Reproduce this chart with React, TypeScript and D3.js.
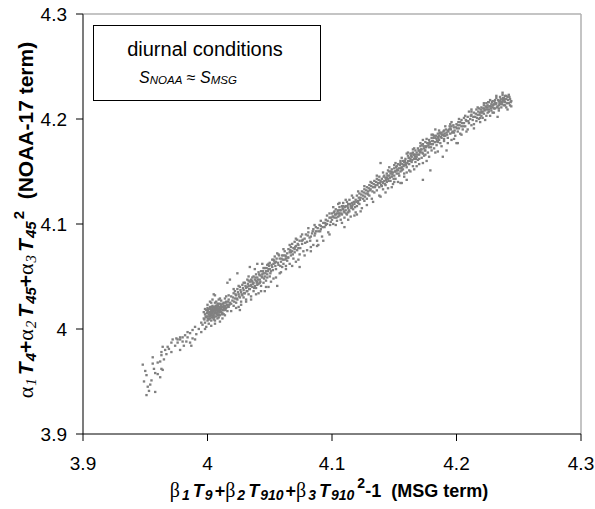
import React from "react";
import * as d3 from "d3";

const xTicks = [3.9, 4.0, 4.1, 4.2, 4.3];
const yTicks = [3.9, 4.0, 4.1, 4.2, 4.3];
const tickLabels = ["3.9", "4", "4.1", "4.2", "4.3"];

// tail (x 3.948 - 3.995)
const tailPoints: [number, number][] = [
  [3.948,3.966],[3.951,3.956],[3.949,3.950],[3.951,3.937],[3.952,3.945],[3.953,3.941],[3.955,3.951],[3.958,3.958],
  [3.958,3.940],[3.956,3.967],[3.960,3.968],[3.962,3.969],[3.963,3.962],[3.962,3.954],[3.964,3.961],[3.956,3.973],
  [3.963,3.975],[3.966,3.980],[3.968,3.983],[3.971,3.987],[3.971,3.978],[3.972,3.990],[3.976,3.987],[3.978,3.990],
  [3.978,3.980],[3.980,3.988],[3.983,3.988],[3.986,3.987],[3.988,3.991],[3.990,3.990],[3.978,3.992],[3.982,3.994],
  [3.986,3.996],[3.988,3.999],[3.950,3.960],[3.954,3.947],[3.957,3.962],[3.960,3.957],[3.965,3.971],[3.967,3.976],
  [3.969,3.981],[3.974,3.984],[3.975,3.991],[3.981,3.984],[3.984,3.992],[3.987,3.984],[3.991,3.995],[3.993,4.000],
  [3.995,3.997],[3.964,3.983],[3.963,3.978],[3.976,3.990],[3.980,3.992],[3.984,3.997],[3.990,4.002]
];

// dense blob near (4.005, 4.015)
const blobPoints: [number, number][] = [
  [3.996,4.004],[3.997,4.010],[3.998,4.006],[3.998,4.014],[3.999,4.002],[3.999,4.011],[4.000,4.008],[4.000,4.016],
  [4.000,4.012],[4.001,4.005],[4.001,4.019],[4.001,4.014],[4.002,4.010],[4.002,4.016],[4.002,4.021],[4.003,4.013],
  [4.003,4.008],[4.003,4.018],[4.004,4.015],[4.004,4.011],[4.004,4.022],[4.005,4.017],[4.005,4.013],[4.005,4.009],
  [4.006,4.020],[4.006,4.015],[4.006,4.025],[4.007,4.012],[4.007,4.018],[4.007,4.022],[4.008,4.016],[4.008,4.020],
  [4.008,4.010],[4.009,4.019],[4.009,4.024],[4.009,4.014],[4.010,4.021],[4.010,4.017],[4.010,4.007],[4.011,4.023],
  [4.011,4.019],[4.011,4.027],[4.012,4.015],[4.012,4.021],[4.013,4.025],[4.013,4.018],[4.014,4.022],[4.014,4.029],
  [4.015,4.020],[4.015,4.026],[4.016,4.023],[4.016,4.017],[4.017,4.028],[4.017,4.021],[4.018,4.025],[3.997,4.016],
  [3.999,4.018],[4.002,4.026],[4.004,4.028],[4.006,4.032],[4.003,4.003],[4.006,4.005],[4.009,4.011],[4.012,4.010],
  [4.014,4.013],[4.016,4.021],[4.001,4.009],[4.004,4.019],[4.007,4.015],[4.008,4.024],[4.010,4.013],[4.013,4.022],
  [4.000,4.020],[3.998,4.019],[4.005,4.021],[4.007,4.026],[4.011,4.016],[4.009,4.028],[4.015,4.031],[4.019,4.017],
  [4.005,4.033],[4.016,4.044],[4.018,4.047],[4.024,4.053],
  [3.9975,4.009],[3.9985,4.012],[3.9995,4.015],[4.0005,4.010],[4.0005,4.018],[4.0015,4.012],[4.0015,4.016],[4.0025,4.014],
  [4.0025,4.019],[4.0035,4.011],[4.0035,4.016],[4.0035,4.021],[4.0045,4.013],[4.0045,4.018],[4.0055,4.015],[4.0055,4.020],
  [4.0055,4.011],[4.0065,4.017],[4.0065,4.022],[4.0075,4.014],[4.0075,4.020],[4.0085,4.018],[4.0085,4.013],[4.0085,4.022],
  [4.0095,4.016],[4.0095,4.021],[4.0105,4.019],[4.0105,4.024],[4.0115,4.021],[4.0115,4.014],[4.0125,4.018],[4.0125,4.024],
  [4.0135,4.020],[4.0145,4.025],[4.0145,4.018],[4.0155,4.023],[4.0165,4.026],[4.0175,4.023],[4.002,4.012],[4.004,4.017],
  [4.006,4.018],[4.008,4.022],[4.010,4.019],[4.012,4.018],[4.003,4.015],[4.005,4.011],[4.007,4.020],[4.009,4.017],
  [4.011,4.021],[4.013,4.020],
  [3.998,4.000],[4.000,4.023],[4.003,4.025],[4.006,4.008],[4.010,4.029],[4.013,4.014],[4.017,4.032],[3.995,4.006]
];

// x 4.02 - 4.06
const risePoints: [number, number][] = [
  [4.019,4.024],[4.019,4.031],[4.020,4.027],[4.021,4.034],[4.021,4.022],[4.022,4.029],[4.022,4.036],[4.023,4.025],
  [4.023,4.032],[4.024,4.038],[4.024,4.028],[4.025,4.033],[4.025,4.021],[4.026,4.030],[4.026,4.040],[4.027,4.035],
  [4.027,4.026],[4.028,4.032],[4.028,4.042],[4.029,4.037],[4.029,4.030],[4.030,4.034],[4.030,4.044],[4.031,4.039],
  [4.031,4.028],[4.032,4.036],[4.032,4.047],[4.033,4.041],[4.033,4.033],[4.034,4.038],[4.034,4.045],[4.035,4.042],
  [4.035,4.031],[4.036,4.049],[4.036,4.040],[4.037,4.044],[4.037,4.036],[4.038,4.047],[4.038,4.041],[4.039,4.052],
  [4.039,4.039],[4.040,4.045],[4.040,4.049],[4.041,4.043],[4.041,4.034],[4.042,4.051],[4.042,4.047],[4.043,4.055],
  [4.043,4.041],[4.044,4.049],[4.045,4.053],[4.045,4.044],[4.046,4.058],[4.046,4.050],[4.047,4.046],[4.047,4.055],
  [4.048,4.061],[4.048,4.052],[4.049,4.040],[4.049,4.057],[4.050,4.063],[4.050,4.050],[4.051,4.055],[4.052,4.066],
  [4.052,4.059],[4.053,4.048],[4.053,4.062],[4.054,4.069],[4.055,4.057],[4.055,4.064],[4.056,4.072],[4.056,4.041],
  [4.057,4.061],[4.058,4.067],[4.058,4.053],[4.059,4.064],[4.060,4.070],[4.060,4.059],[4.038,4.057],[4.044,4.062],
  [4.033,4.050],[4.026,4.018],[4.046,4.036],[4.034,4.059],[4.040,4.062],
  [4.0205,4.030],[4.0215,4.026],[4.0225,4.033],[4.0235,4.029],[4.0245,4.035],[4.0255,4.031],[4.0265,4.037],[4.0275,4.033],
  [4.0285,4.039],[4.0295,4.034],[4.0305,4.041],[4.0315,4.036],[4.0325,4.043],[4.0335,4.038],[4.0345,4.041],[4.0355,4.046],
  [4.0365,4.043],[4.0375,4.039],[4.0385,4.049],[4.0395,4.044],[4.0405,4.047],[4.0415,4.052],[4.0425,4.045],[4.0435,4.050],
  [4.0445,4.055],[4.0455,4.048],[4.0465,4.053],[4.0475,4.058],[4.0485,4.055],[4.0495,4.060],[4.0505,4.053],[4.0515,4.061],
  [4.0525,4.056],[4.0535,4.065],[4.0545,4.060],[4.0555,4.067],[4.0565,4.063],[4.0575,4.070],[4.0585,4.060],[4.0595,4.067],
  [4.032,4.040],[4.036,4.045],[4.040,4.042],[4.044,4.052],[4.048,4.049],[4.035,4.047],[4.039,4.046],[4.042,4.044],
  [4.050,4.057],[4.054,4.063],
  [4.021,4.038],[4.023,4.020],[4.025,4.041],[4.027,4.023],[4.029,4.044],[4.031,4.026],[4.033,4.046],[4.035,4.028],
  [4.037,4.050],[4.039,4.033],[4.041,4.054],[4.043,4.036],[4.045,4.058],[4.047,4.040],[4.049,4.062],[4.051,4.045],
  [4.053,4.066],[4.055,4.049],[4.057,4.071],[4.059,4.054]
];

// x 4.06 - 4.10
const midPoints: [number, number][] = [
  [4.061,4.062],[4.061,4.070],[4.062,4.066],[4.062,4.074],[4.063,4.060],[4.063,4.069],[4.064,4.072],[4.064,4.065],
  [4.065,4.076],[4.065,4.068],[4.066,4.073],[4.066,4.062],[4.067,4.078],[4.067,4.070],[4.068,4.074],[4.068,4.081],
  [4.069,4.067],[4.069,4.077],[4.070,4.083],[4.070,4.073],[4.071,4.079],[4.072,4.075],[4.072,4.085],[4.073,4.080],
  [4.074,4.071],[4.074,4.084],[4.075,4.088],[4.076,4.081],[4.077,4.074],[4.078,4.086],[4.079,4.090],[4.080,4.083],
  [4.081,4.092],[4.082,4.087],[4.083,4.078],[4.084,4.091],[4.085,4.095],[4.086,4.089],[4.087,4.097],[4.088,4.084],
  [4.089,4.093],[4.090,4.099],[4.091,4.095],[4.092,4.088],[4.093,4.101],[4.094,4.097],[4.095,4.104],[4.096,4.100],
  [4.097,4.092],[4.098,4.106],[4.099,4.102],[4.071,4.064],[4.080,4.075],[4.089,4.080],[4.074,4.059],[4.085,4.080],
  [4.0605,4.066],[4.0625,4.070],[4.0645,4.068],[4.0665,4.075],[4.0685,4.071],[4.0705,4.078],[4.0725,4.081],[4.0745,4.077],
  [4.0765,4.085],[4.0785,4.082],[4.0805,4.089],[4.0825,4.084],[4.0845,4.093],[4.0865,4.091],[4.0885,4.096],[4.0905,4.093],
  [4.0925,4.097],[4.0945,4.101],[4.0965,4.103],[4.0985,4.099],[4.063,4.067],[4.067,4.073],[4.070,4.076],[4.073,4.077],
  [4.076,4.084],[4.083,4.088],[4.087,4.093],[4.091,4.098],[4.095,4.099],[4.099,4.106],
  [4.061,4.076],[4.063,4.057],[4.066,4.080],[4.068,4.060],[4.071,4.086],[4.073,4.066],[4.076,4.090],[4.078,4.070],
  [4.081,4.096],[4.083,4.074],[4.086,4.099],[4.088,4.079],[4.091,4.103],[4.093,4.084],[4.096,4.108],[4.098,4.090]
];

// x 4.10 - 4.14
const upperMidPoints: [number, number][] = [
  [4.100,4.104],[4.100,4.110],[4.101,4.107],[4.101,4.100],[4.102,4.112],[4.102,4.106],[4.103,4.109],[4.103,4.114],
  [4.104,4.103],[4.104,4.110],[4.105,4.113],[4.105,4.107],[4.106,4.116],[4.106,4.110],[4.107,4.104],[4.107,4.113],
  [4.108,4.117],[4.108,4.109],[4.109,4.114],[4.109,4.120],[4.110,4.111],[4.110,4.106],[4.111,4.117],[4.111,4.113],
  [4.112,4.121],[4.112,4.109],[4.113,4.115],[4.113,4.119],[4.114,4.112],[4.114,4.123],[4.115,4.117],[4.115,4.107],
  [4.116,4.120],[4.117,4.114],[4.117,4.125],[4.118,4.119],[4.119,4.123],[4.119,4.111],[4.120,4.127],[4.120,4.117],
  [4.121,4.122],[4.122,4.129],[4.122,4.119],[4.123,4.125],[4.124,4.131],[4.124,4.115],[4.125,4.127],[4.126,4.122],
  [4.126,4.133],[4.127,4.129],[4.128,4.135],[4.128,4.124],[4.129,4.131],[4.130,4.137],[4.130,4.127],[4.131,4.133],
  [4.132,4.139],[4.132,4.124],[4.133,4.135],[4.134,4.130],[4.134,4.141],[4.135,4.137],[4.136,4.143],[4.136,4.132],
  [4.137,4.139],[4.138,4.135],[4.138,4.145],[4.139,4.126],[4.139,4.141],[4.110,4.097],[4.120,4.109],[4.098,4.110],
  [4.105,4.119],
  [4.1005,4.107],[4.1015,4.111],[4.1025,4.109],[4.1035,4.106],[4.1045,4.112],[4.1055,4.110],[4.1065,4.113],[4.1075,4.110],
  [4.1085,4.115],[4.1095,4.112],[4.1105,4.116],[4.1115,4.110],[4.1125,4.117],[4.1135,4.113],[4.1145,4.119],[4.1155,4.115],
  [4.1165,4.118],[4.1175,4.121],[4.1185,4.116],[4.1195,4.121],[4.1215,4.125],[4.1225,4.123],[4.1235,4.128],[4.1255,4.130],
  [4.1265,4.126],[4.1275,4.132],[4.1285,4.129],[4.1295,4.134],[4.1305,4.132],[4.1315,4.136],[4.1325,4.131],[4.1335,4.138],
  [4.1345,4.135],[4.1355,4.140],[4.1365,4.137],[4.1375,4.142],[4.1385,4.139],[4.1395,4.137],[4.106,4.108],[4.109,4.117],
  [4.113,4.111],[4.116,4.116],[4.121,4.120],[4.125,4.124],[4.129,4.128],
  [4.101,4.116],[4.103,4.099],[4.106,4.120],[4.108,4.101],[4.111,4.123],[4.113,4.104],[4.116,4.127],[4.118,4.108],
  [4.121,4.131],[4.123,4.112],[4.126,4.136],[4.128,4.118],[4.131,4.140],[4.133,4.121],[4.136,4.146],[4.138,4.127]
];

// x 4.14 - 4.20
const densePoints: [number, number][] = [
  [4.140,4.136],[4.140,4.143],[4.141,4.139],[4.141,4.133],[4.142,4.141],[4.142,4.146],[4.143,4.137],[4.143,4.144],
  [4.144,4.140],[4.144,4.148],[4.145,4.143],[4.145,4.134],[4.146,4.146],[4.146,4.150],[4.147,4.141],[4.147,4.148],
  [4.148,4.145],[4.148,4.152],[4.149,4.138],[4.149,4.149],[4.150,4.146],[4.150,4.153],[4.151,4.150],[4.151,4.143],
  [4.152,4.155],[4.152,4.148],[4.153,4.151],[4.153,4.157],[4.154,4.146],[4.154,4.153],[4.155,4.150],[4.155,4.158],
  [4.156,4.154],[4.156,4.139],[4.157,4.160],[4.157,4.152],[4.158,4.156],[4.158,4.148],[4.159,4.162],[4.159,4.158],
  [4.160,4.154],[4.160,4.142],[4.161,4.160],[4.161,4.165],[4.162,4.157],[4.162,4.151],[4.163,4.162],[4.163,4.167],
  [4.164,4.159],[4.164,4.164],[4.165,4.155],[4.165,4.168],[4.166,4.162],[4.166,4.166],[4.167,4.159],[4.167,4.170],
  [4.168,4.164],[4.168,4.168],[4.169,4.161],[4.169,4.172],[4.170,4.166],[4.170,4.157],[4.171,4.169],[4.171,4.174],
  [4.172,4.163],[4.172,4.171],[4.173,4.167],[4.173,4.142],[4.173,4.176],[4.174,4.172],[4.174,4.165],[4.175,4.178],
  [4.175,4.170],[4.176,4.174],[4.176,4.160],[4.177,4.177],[4.177,4.168],[4.178,4.173],[4.178,4.180],[4.179,4.151],
  [4.179,4.176],[4.180,4.170],[4.180,4.182],[4.181,4.176],[4.181,4.179],[4.182,4.172],[4.182,4.184],[4.183,4.178],
  [4.184,4.181],[4.184,4.175],[4.185,4.186],[4.185,4.169],[4.186,4.180],[4.186,4.184],[4.187,4.177],[4.188,4.187],
  [4.188,4.182],[4.189,4.164],[4.189,4.185],[4.190,4.179],[4.190,4.189],[4.191,4.184],[4.192,4.170],[4.192,4.187],
  [4.193,4.182],[4.194,4.190],[4.195,4.186],[4.196,4.193],[4.196,4.180],[4.197,4.188],[4.198,4.192],[4.199,4.184],
  [4.200,4.195],[4.200,4.177],[4.139,4.158],[4.155,4.139],[4.160,4.167],[4.173,4.180],[4.166,4.152],[4.183,4.190],
  [4.150,4.140],[4.145,4.151],
  [4.1405,4.140],[4.1415,4.145],[4.1425,4.138],[4.1435,4.142],[4.1445,4.146],[4.1455,4.141],[4.1465,4.144],[4.1475,4.150],
  [4.1485,4.147],[4.1495,4.143],[4.1505,4.150],[4.1515,4.154],[4.1525,4.152],[4.1535,4.148],[4.1545,4.156],[4.1555,4.153],
  [4.1565,4.157],[4.1575,4.155],[4.1585,4.160],[4.1595,4.156],[4.1605,4.158],[4.1615,4.163],[4.1625,4.160],[4.1635,4.165],
  [4.1645,4.161],[4.1655,4.166],[4.1665,4.164],[4.1675,4.162],[4.1685,4.166],[4.1695,4.170],[4.1705,4.168],[4.1715,4.171],
  [4.1725,4.168],[4.1735,4.174],[4.1745,4.170],[4.1755,4.173],[4.1765,4.177],[4.1775,4.175],[4.1785,4.178],[4.1795,4.173],
  [4.1805,4.179],[4.1815,4.182],[4.1825,4.178],[4.1835,4.184],[4.1845,4.179],[4.1855,4.182],[4.1865,4.187],[4.1875,4.183],
  [4.1885,4.185],[4.1895,4.188],[4.1905,4.186],[4.1915,4.190],[4.1925,4.185],[4.1935,4.188],[4.1945,4.193],[4.1955,4.190],
  [4.1965,4.187],[4.1975,4.194],[4.1985,4.189],[4.1995,4.192],[4.144,4.144],[4.148,4.149],[4.152,4.151],[4.156,4.151],
  [4.158,4.159],[4.162,4.163],[4.164,4.167],[4.167,4.166],[4.170,4.170],[4.172,4.175],[4.175,4.174],[4.178,4.177],
  [4.180,4.176],[4.183,4.182],[4.185,4.183],[4.187,4.186],[4.190,4.184],[4.193,4.189],[4.195,4.191],[4.198,4.187],
  [4.141,4.149],[4.143,4.130],[4.146,4.154],[4.148,4.135],[4.151,4.158],[4.153,4.140],[4.156,4.163],[4.158,4.145],
  [4.161,4.168],[4.163,4.150],[4.166,4.172],[4.168,4.155],[4.171,4.177],[4.173,4.158],[4.176,4.181],[4.178,4.164],
  [4.181,4.185],[4.183,4.168],[4.186,4.189],[4.188,4.174],[4.191,4.193],[4.193,4.177],[4.196,4.197],[4.198,4.181],
  [4.150,4.156],[4.160,4.149],[4.170,4.162],[4.180,4.185],[4.190,4.181],[4.155,4.160],[4.165,4.171],[4.175,4.166],
  [4.185,4.178],[4.195,4.195]
];

// x 4.20 - 4.245
const topPoints: [number, number][] = [
  [4.201,4.188],[4.201,4.194],[4.202,4.191],[4.203,4.197],[4.203,4.186],[4.204,4.193],[4.204,4.199],[4.205,4.190],
  [4.206,4.196],[4.206,4.201],[4.207,4.193],[4.208,4.198],[4.208,4.188],[4.209,4.202],[4.210,4.196],[4.210,4.207],
  [4.211,4.200],[4.212,4.194],[4.212,4.204],[4.213,4.199],[4.214,4.206],[4.214,4.191],[4.215,4.202],[4.216,4.209],
  [4.216,4.198],[4.217,4.204],[4.218,4.200],[4.218,4.210],[4.219,4.206],[4.219,4.197],[4.220,4.203],[4.220,4.211],
  [4.221,4.207],[4.221,4.201],[4.222,4.213],[4.222,4.205],[4.223,4.209],[4.223,4.199],[4.224,4.211],[4.224,4.215],
  [4.225,4.206],[4.225,4.213],[4.226,4.209],[4.226,4.216],[4.227,4.203],[4.227,4.212],[4.228,4.214],[4.228,4.208],
  [4.229,4.217],[4.229,4.211],[4.230,4.206],[4.230,4.214],[4.231,4.218],[4.231,4.210],[4.232,4.215],[4.232,4.220],
  [4.233,4.202],[4.233,4.212],[4.234,4.217],[4.234,4.208],[4.235,4.214],[4.235,4.221],[4.236,4.216],[4.236,4.211],
  [4.237,4.223],[4.237,4.218],[4.238,4.213],[4.238,4.220],[4.239,4.216],[4.239,4.222],[4.240,4.211],[4.240,4.219],
  [4.241,4.209],[4.241,4.221],[4.242,4.215],[4.243,4.213],[4.243,4.219],[4.244,4.217],[4.201,4.177],[4.212,4.207],
  [4.2005,4.191],[4.2015,4.197],[4.2025,4.194],[4.2045,4.196],[4.2055,4.193],[4.2075,4.199],[4.2095,4.198],[4.2115,4.203],
  [4.2135,4.202],[4.2155,4.205],[4.2165,4.201],[4.2175,4.207],[4.2185,4.204],[4.2195,4.209],[4.2205,4.206],[4.2215,4.210],
  [4.2225,4.208],[4.2235,4.212],[4.2245,4.209],[4.2255,4.216],[4.2265,4.212],[4.2275,4.210],[4.2285,4.216],[4.2295,4.213],
  [4.2305,4.217],[4.2315,4.214],[4.2325,4.211],[4.2335,4.218],[4.2345,4.215],[4.2355,4.219],[4.2365,4.214],[4.2375,4.220],
  [4.2385,4.217],[4.2395,4.219],[4.2405,4.215],[4.2415,4.218],[4.2425,4.221],[4.2435,4.216],[4.222,4.210],[4.225,4.211],
  [4.228,4.212],[4.231,4.215],[4.234,4.213],[4.237,4.216],[4.240,4.222],[4.226,4.207],[4.230,4.210],[4.235,4.217],
  [4.238,4.218],[4.220,4.207],
  [4.202,4.200],[4.204,4.185],[4.207,4.203],[4.209,4.190],[4.212,4.209],[4.214,4.195],[4.217,4.211],[4.219,4.201],
  [4.222,4.215],[4.224,4.203],[4.227,4.218],[4.229,4.206],[4.232,4.222],[4.234,4.210],[4.237,4.225],[4.239,4.213],
  [4.242,4.223],[4.244,4.212]
];

const legendLine1 = "diurnal conditions";

const W = 595;
const H = 509;
const M = { left: 83, right: 581, top: 14, bottom: 434 };

export default function App() {
  const x = d3.scaleLinear().domain([3.9, 4.3]).range([M.left, M.right]);
  const y = d3.scaleLinear().domain([3.9, 4.3]).range([M.bottom, M.top]);
  const all = [
    ...tailPoints, ...blobPoints, ...risePoints, ...midPoints,
    ...upperMidPoints, ...densePoints, ...topPoints,
  ];
  const sans = "Arial, 'Liberation Sans', sans-serif";
  const serif = "'Times New Roman', 'Liberation Serif', serif";
  return (
    <svg width={W} height={H} style={{ position: "absolute", left: 0, top: 0, background: "#fff" }}>
      <rect x={0} y={0} width={W} height={H} fill="#fff" />
      {/* frame */}
      <line x1={M.left} x2={M.right} y1={M.top} y2={M.top} stroke="#b0b0b0" strokeWidth={1.5} />
      <line x1={M.right} x2={M.right} y1={M.top} y2={M.bottom} stroke="#b0b0b0" strokeWidth={1.5} />
      {/* points */}
      <g fill="#808080">
        {all.map((p, i) => (
          <rect key={i} x={x(p[0]) - 1.2} y={y(p[1]) - 1.2} width={2.4} height={2.3} />
        ))}
      </g>
      {/* axes */}
      <line x1={M.left} x2={M.left} y1={M.top} y2={M.bottom} stroke="#6e6e6e" strokeWidth={1.8} />
      <line x1={M.left} x2={M.right} y1={M.bottom} y2={M.bottom} stroke="#000" strokeWidth={1} />
      {yTicks.map((t, i) => (
        <g key={"y" + i}>
          <line x1={M.left - 7} x2={M.left} y1={y(t)} y2={y(t)} stroke="#000" strokeWidth={1} />
          <text x={67} y={y(t) + 7} textAnchor="end" fontFamily={sans} fontSize={19} fill="#000">
            {tickLabels[i]}
          </text>
        </g>
      ))}
      {xTicks.map((t, i) => (
        <g key={"x" + i}>
          <line x1={x(t)} x2={x(t)} y1={M.bottom} y2={M.bottom + 7} stroke="#000" strokeWidth={1} />
          <text x={x(t)} y={470} textAnchor="middle" fontFamily={sans} fontSize={19} fill="#000">
            {tickLabels[i]}
          </text>
        </g>
      ))}
      {/* legend box */}
      <rect x={93.5} y={25.5} width={227} height={75} fill="#fff" stroke="#000" strokeWidth={1} />
      <text x={205} y={56} textAnchor="middle" fontFamily={sans} fontSize={20} fill="#000">
        {legendLine1}
      </text>
      <text x={188} y={83} textAnchor="middle" fontFamily={sans} fontStyle="italic" fontSize={16} fill="#000">
        <tspan>S</tspan>
        <tspan fontSize={11.5} dy={1}>NOAA</tspan>
        <tspan dy={-1} fontStyle="normal"> ≈ </tspan>
        <tspan>S</tspan>
        <tspan fontSize={11.5} dy={1}>MSG</tspan>
      </text>
      {/* x title */}
      <text x={329} y={497} textAnchor="middle" fontFamily={sans} fontWeight="bold" fontSize={18} fill="#000" xmlSpace="preserve">
        <tspan fontFamily={serif} fontWeight="normal" fontSize={20}>β</tspan>
        <tspan fontSize={14} fontStyle="italic" dx={2} dy={3}>1</tspan>
        <tspan fontStyle="italic" dx={3} dy={-3}>T</tspan>
        <tspan fontSize={14} fontStyle="italic" dx={1} dy={3}>9</tspan>
        <tspan dx={2} dy={-3}>+</tspan>
        <tspan fontFamily={serif} fontWeight="normal" fontSize={20}>β</tspan>
        <tspan fontSize={14} fontStyle="italic" dx={2} dy={3}>2</tspan>
        <tspan fontStyle="italic" dx={3} dy={-3}>T</tspan>
        <tspan fontSize={14} fontStyle="italic" dx={1} dy={3}>910</tspan>
        <tspan dx={2} dy={-3}>+</tspan>
        <tspan fontFamily={serif} fontWeight="normal" fontSize={20}>β</tspan>
        <tspan fontSize={14} fontStyle="italic" dx={2} dy={3}>3</tspan>
        <tspan fontStyle="italic" dx={3} dy={-3}>T</tspan>
        <tspan fontSize={14} fontStyle="italic" dx={1} dy={3}>910</tspan>
        <tspan fontSize={14} dx={3} dy={-12}>2</tspan>
        <tspan dy={9}>-1  (MSG term)</tspan>
      </text>
      {/* y title */}
      <text transform={`translate(33, 220) rotate(-90)`} textAnchor="middle" fontFamily={sans} fontWeight="bold" fontSize={21} fill="#000" xmlSpace="preserve">
        <tspan fontFamily={serif} fontWeight="normal" fontSize={22}>α</tspan>
        <tspan fontFamily={serif} fontWeight="normal" fontSize={15} fontStyle="italic" dx={1} dy={3}>1</tspan>
        <tspan fontStyle="italic" dx={3} dy={-3}>T</tspan>
        <tspan fontSize={15} fontStyle="italic" dx={1} dy={3}>4</tspan>
        <tspan dy={-3}>+</tspan>
        <tspan fontFamily={serif} fontWeight="normal" fontSize={22}>α</tspan>
        <tspan fontFamily={serif} fontWeight="normal" fontSize={15} fontStyle="italic" dx={1} dy={3}>2</tspan>
        <tspan fontStyle="italic" dx={3} dy={-3}>T</tspan>
        <tspan fontSize={15} fontStyle="italic" dx={1} dy={3}>45</tspan>
        <tspan dy={-3}>+</tspan>
        <tspan fontFamily={serif} fontWeight="normal" fontSize={22}>α</tspan>
        <tspan fontFamily={serif} fontWeight="normal" fontSize={15} fontStyle="italic" dx={1} dy={3}>3</tspan>
        <tspan fontStyle="italic" dx={3} dy={-3}>T</tspan>
        <tspan fontSize={15} fontStyle="italic" dx={1} dy={3}>45</tspan>
        <tspan fontSize={15} dx={2} dy={-12}>2</tspan>
        <tspan dy={9}>  (NOAA-17 term)</tspan>
      </text>
    </svg>
  );
}
